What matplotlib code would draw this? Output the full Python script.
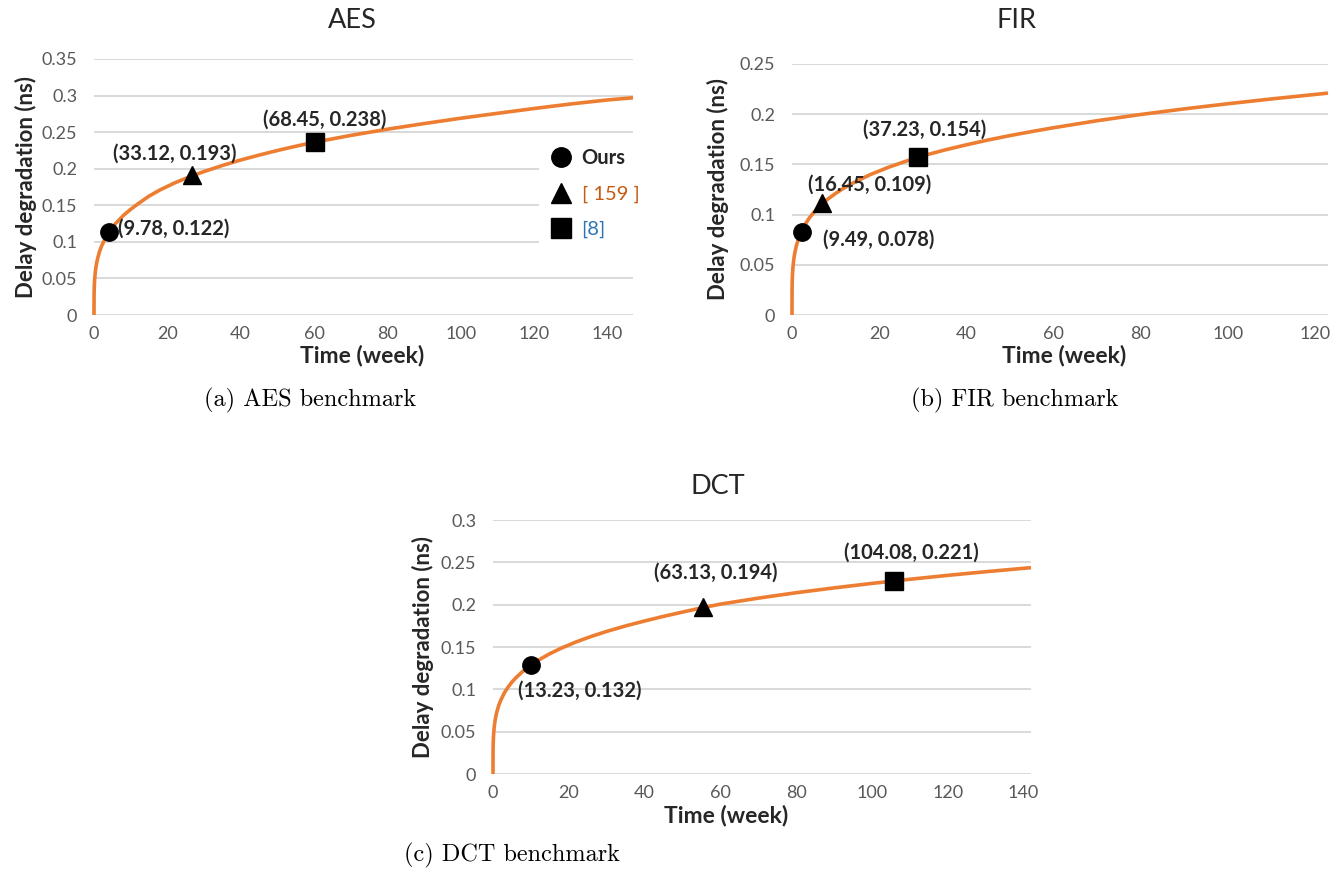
import matplotlib
matplotlib.use("Agg")
import matplotlib.pyplot as plt
from matplotlib.lines import Line2D

plt.rcParams['font.family'] = ['Lato', 'DejaVu Sans']

# curve values (time in weeks, delay in ns)
aes_t = [0, 0.02, 0.05, 0.1, 0.2, 0.35, 0.5, 0.75, 1, 1.5, 2, 3, 4, 5, 6, 8, 10, 12, 15,
         18, 22, 26, 30, 35, 40, 45, 50, 55, 60, 70, 80, 90, 100, 110, 120, 130, 140, 147]
aes_d = [0, 0.027, 0.0345, 0.0416, 0.0502, 0.0584, 0.0643, 0.0717, 0.0775, 0.0865, 0.0935,
         0.1042, 0.1127, 0.1197, 0.1257, 0.136, 0.1445, 0.152, 0.1625, 0.171, 0.1806,
         0.1888, 0.1961, 0.2044, 0.2119, 0.2186, 0.2249, 0.2307, 0.2361, 0.2455, 0.2540,
         0.2617, 0.2690, 0.2757, 0.2823, 0.2885, 0.2940, 0.2970]
fir_t = [0, 0.02, 0.05, 0.1, 0.2, 0.35, 0.5, 0.75, 1, 1.5, 2, 3, 4, 5, 6, 8, 10, 12, 15,
         18, 22, 26, 30, 35, 40, 45, 50, 55, 60, 70, 80, 90, 100, 110, 123]
fir_d = [0, 0.0264, 0.0331, 0.0392, 0.0465, 0.0533, 0.0581, 0.0642, 0.0689, 0.0761, 0.0817,
         0.0902, 0.0968, 0.1022, 0.1069, 0.1147, 0.1211, 0.1267, 0.1337, 0.1399, 0.1469,
         0.1530, 0.1585, 0.1643, 0.1695, 0.1743, 0.1787, 0.1827, 0.1865, 0.1935, 0.1997,
         0.2053, 0.2104, 0.2152, 0.2210]
dct_t = [0, 0.02, 0.05, 0.1, 0.2, 0.35, 0.5, 0.75, 1, 1.5, 2, 3, 4, 5, 6, 8, 10, 12, 15,
         18, 22, 26, 30, 35, 40, 45, 50, 55, 60, 70, 80, 90, 100, 110, 120, 130, 142]
dct_d = [0, 0.0281, 0.0351, 0.0417, 0.0493, 0.0566, 0.0618, 0.0682, 0.0732, 0.0808, 0.0867,
         0.0958, 0.1028, 0.1086, 0.1135, 0.1218, 0.1287, 0.1345, 0.1421, 0.1486, 0.1561,
         0.1626, 0.1684, 0.1749, 0.1807, 0.1862, 0.1912, 0.1962, 0.2006, 0.2077, 0.2141,
         0.2198, 0.2251, 0.2300, 0.2346, 0.2389, 0.2437]

# marker positions (ours, [159], [8]) and their printed labels
aes_pts_t = [4.1, 26.7, 60.3]
aes_pts_d = [0.1135, 0.191, 0.2365]
aes_lbls = ['(9.78, 0.122)', '(33.12, 0.193)', '(68.45, 0.238)']
fir_pts_t = [2.3, 6.9, 28.9]
fir_pts_d = [0.083, 0.1116, 0.157]
fir_lbls = ['(9.49, 0.078)', '(16.45, 0.109)', '(37.23, 0.154)']
dct_pts_t = [10.0, 55.4, 105.8]
dct_pts_d = [0.1287, 0.197, 0.228]
dct_lbls = ['(13.23, 0.132)', '(63.13, 0.194)', '(104.08, 0.221)']

markers = ['o', '^', 's']
orange = '#ED7D31'
W, H = 1337, 871

fig = plt.figure(figsize=(W / 100, H / 100), dpi=100)


def px_axes(x0, x1, y_bottom, y_top):
    return fig.add_axes([x0 / W, 1 - y_bottom / H, (x1 - x0) / W, (y_bottom - y_top) / H])


def style(ax, title, tpos, yticks, ylab_x, xlab_pos, xticks):
    for s in ax.spines.values():
        s.set_visible(False)
    ax.set_yticks(yticks)
    ax.set_yticklabels([('%g' % v) for v in yticks])
    ax.set_xticks(xticks)
    ax.tick_params(length=0, labelsize=13, colors='#595959')
    ax.tick_params(axis='y', pad=12)
    ax.tick_params(axis='x', pad=8)
    ax.grid(axis='y', color='#d9d9d9', linewidth=1.4)
    ax.set_axisbelow(True)
    ax.set_title(title, fontsize=19.5, color='#262626', x=tpos[0], y=tpos[1], va='center', pad=0)
    ax.set_ylabel('Delay degradation (ns)', fontsize=16, fontweight='bold', color='#262626')
    ax.yaxis.set_label_coords(ylab_x, 0.5)
    ax.set_xlabel('Time (week)', fontsize=16.5, fontweight='bold', color='#262626')
    ax.xaxis.set_label_coords(*xlab_pos)


def draw(ax, t, d, pt, pd_, lbls, offs, has):
    ax.plot(t, d, color=orange, linewidth=2.6, solid_capstyle='butt', zorder=3, clip_on=False)
    for i in range(3):
        ax.plot(pt[i], pd_[i], marker=markers[i], color='black', markersize=12.5,
                linestyle='none', zorder=4, clip_on=False)
        ax.annotate(lbls[i], (pt[i], pd_[i]), xytext=offs[i], textcoords='offset pixels',
                    ha=has[i], va='center', fontsize=14.5, fontweight='bold', color='#262626')


# (a) AES
ax1 = px_axes(94, 633, 315, 59)
ax1.set_xlim(0, 147)
ax1.set_ylim(0, 0.35)
style(ax1, 'AES', (0.48, 1.152), [0, 0.05, 0.1, 0.15, 0.2, 0.25, 0.3, 0.35], -0.106,
      (0.497, -0.117), [0, 20, 40, 60, 80, 100, 120, 140])
draw(ax1, aes_t, aes_d, aes_pts_t, aes_pts_d, aes_lbls,
     [(9, 3), (-17, 22), (10, 22)], ['left', 'center', 'center'])
handles = [Line2D([], [], marker=m, color='black', linestyle='none', markersize=14) for m in markers]
leg = ax1.legend(handles, ['Ours', '[ 159 ]', '[8]'], loc='upper left',
                 bbox_to_anchor=(0.826, 0.70), frameon=True, facecolor='white',
                 edgecolor='none', framealpha=1, fontsize=14.5, handlelength=1.0,
                 handletextpad=0.5, labelspacing=0.88, borderpad=0.6, borderaxespad=0)
leg.set_zorder(5)
leg.get_frame().set_boxstyle('square', pad=0)
txts = leg.get_texts()
txts[0].set_fontweight('bold')
txts[0].set_color('#262626')
txts[1].set_color('#C55A11')
txts[2].set_color('#2E75B6')
fig.text(310 / W, 1 - 400 / H, '(a) AES benchmark', family='cmr10', fontsize=17.5,
         ha='center', va='center')

# (b) FIR
ax2 = px_axes(792, 1328, 315, 64)
ax2.set_xlim(0, 123)
ax2.set_ylim(0, 0.25)
style(ax2, 'FIR', (0.418, 1.175), [0, 0.05, 0.1, 0.15, 0.2, 0.25], -0.117,
      (0.507, -0.12), [0, 20, 40, 60, 80, 100, 120])
draw(ax2, fir_t, fir_d, fir_pts_t, fir_pts_d, fir_lbls,
     [(77, -8), (48, 18), (7, 28)], ['center', 'center', 'center'])
fig.text(1015 / W, 1 - 400 / H, '(b) FIR benchmark', family='cmr10', fontsize=17.5,
         ha='center', va='center')

# (c) DCT
ax3 = px_axes(493, 1031, 774, 520)
ax3.set_xlim(0, 142)
ax3.set_ylim(0, 0.3)
style(ax3, 'DCT', (0.418, 1.13), [0, 0.05, 0.1, 0.15, 0.2, 0.25, 0.3], -0.11,
      (0.433, -0.122), [0, 20, 40, 60, 80, 100, 120, 140])
draw(ax3, dct_t, dct_d, dct_pts_t, dct_pts_d, dct_lbls,
     [(49, -26), (13, 35), (18, 28)], ['center', 'center', 'center'])
fig.text(512 / W, 1 - 855 / H, '(c) DCT benchmark', family='cmr10', fontsize=17.5,
         ha='center', va='center')

fig.savefig('out.png', dpi=100, facecolor='white')
